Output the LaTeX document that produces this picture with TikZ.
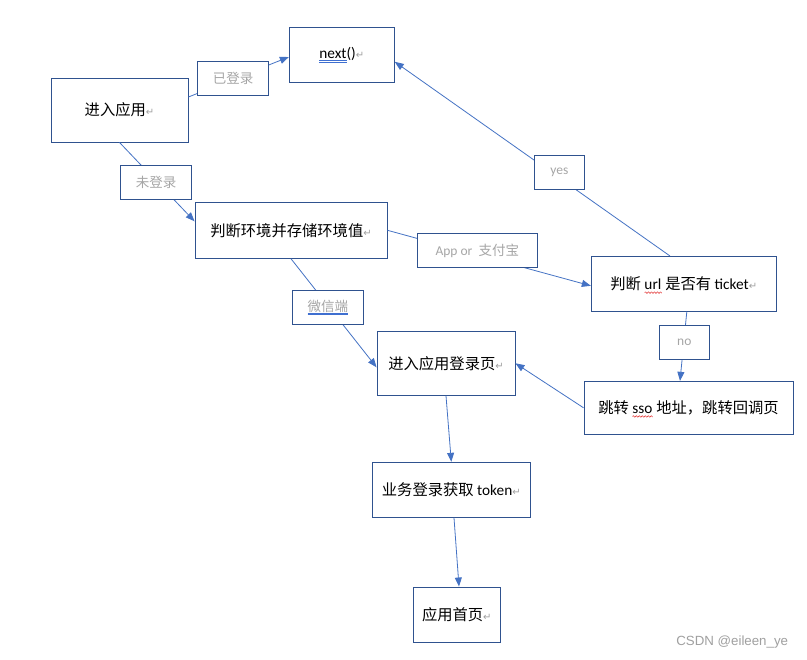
\documentclass[tikz,border=0pt]{standalone}
\usepackage{fontspec}
\setmainfont{Carlito}
\newfontfamily\cjk{Noto Sans CJK SC}
\newfontfamily\dejavu{DejaVu Sans}
\newfontfamily\arialike{Liberation Sans}
\usetikzlibrary{arrows.meta,calc}
\definecolor{boxc}{HTML}{2F528F}
\definecolor{linec}{HTML}{4472C4}
\definecolor{lblc}{HTML}{A6A6A6}
\definecolor{markc}{HTML}{A0A0A0}
\definecolor{ulblue}{HTML}{3F6FD0}
\definecolor{wavec}{HTML}{E02020}
\definecolor{wmc}{HTML}{A0A0A0}
\newsavebox\ulbox
\newcommand\pmark{{\dejavu\color{markc}\fontsize{10}{11}\selectfont ↵}}
\newcommand\dblu[2]{\sbox\ulbox{#2}\rlap{\usebox\ulbox}\rlap{\textcolor{#1}{\rule[-2.4pt]{\wd\ulbox}{0.6pt}}}\textcolor{#1}{\rule[-3.9pt]{\wd\ulbox}{0.6pt}}}
\newcommand\redw[1]{\sbox\ulbox{#1}\rlap{\usebox\ulbox}\raisebox{-4pt}[0pt][0pt]{\tikz[x=1pt,y=1pt]\draw[wavec,line width=0.5pt] plot[domain=0:\the\wd\ulbox,samples=48,smooth] (\x,{0.7*sin(\x*120)});}}
\tikzset{
  box/.style={draw=boxc, line width=0.9pt, fill=white, inner sep=0pt, text=black,
    font=\fontsize{15.3}{18}\selectfont},
  lbl/.style={draw=boxc, line width=0.9pt, fill=white, inner sep=0pt, text=lblc,
    font=\fontsize{13.5}{16}\selectfont},
  conn/.style={draw=linec, line width=0.8pt, -{Triangle[length=9pt,width=7pt]}}
}
\begin{document}
\begin{tikzpicture}[x=1pt,y=-1pt]
\useasboundingbox (0,0) rectangle (807,660);
\fill[white] (0,0) rectangle (807,660);
% main boxes
\node[box, minimum width=137pt, minimum height=64pt] (app) at (119.5,110) {{\cjk 进入应用}\pmark};
\node[box, minimum width=105pt, minimum height=55pt] (next) at (341.8,54.8) {\dblu{ulblue}{next}()\pmark};
\node[box, minimum width=192pt, minimum height=56pt] (env) at (291,230.3) {{\cjk 判断环境并存储环境值}\pmark};
\node[box, minimum width=185pt, minimum height=55pt] (url) at (683.8,283.8) {{\cjk 判断} \redw{url} {\cjk 是否有} ticket\pmark};
\node[box, minimum width=209pt, minimum height=53pt] (sso) at (688.5,407.8) {{\cjk 跳转} \redw{sso} {\cjk 地址，跳转回调页}};
\node[box, minimum width=138pt, minimum height=64pt] (login) at (446,363.3) {{\cjk 进入应用登录页}\pmark};
\node[box, minimum width=158pt, minimum height=55pt] (biz) at (451.3,489.8) {{\cjk 业务登录获取} token\pmark};
\node[box, minimum width=87pt, minimum height=55pt] (home) at (456.8,614.5) {{\cjk 应用首页}\pmark};
% connectors
\draw[conn] ([yshift=13pt]app.east) -- ([yshift=-2.2pt]next.west);
\draw[conn] (app.south) -- ([yshift=9pt]env.west);
\draw[conn] (env.east) -- ([yshift=-2pt]url.west);
\draw[conn] ([xshift=-14pt]url.north) -- ([yshift=-7pt]next.east);
\draw[conn] ([xshift=3pt]url.south) -- ([xshift=-8.5pt]sso.north);
\draw[conn] (sso.west) -- (login.east);
\draw[conn] (env.south) -- ([yshift=-4pt]login.west);
\draw[conn] (login.south) -- (biz.north);
\draw[conn] ([xshift=2.7pt]biz.south) -- ([xshift=2.2pt]home.north);
% labels
\node[lbl, minimum width=71.4pt, minimum height=33.6pt] (l1) at (233,78.5) {\cjk 已登录};
\node[lbl, minimum width=71.4pt, minimum height=34pt] (l2) at (156,182.3) {\cjk 未登录};
\node[lbl, minimum width=120pt, minimum height=33.6pt] (l3) at (477.3,250.5) {App or\ \ {\cjk 支付宝}};
\node[lbl, minimum width=50pt, minimum height=34pt] (l4) at (559.3,172.3) {yes};
\node[lbl, minimum width=50pt, minimum height=34pt] (l5) at (684.3,342.3) {no};
\node[lbl, minimum width=71pt, minimum height=34pt] (l6) at (327.8,307.3) {\cjk\dblu{ulblue}{微信端}};
% watermark
\node[text=wmc, font=\arialike\fontsize{13.3}{15}\selectfont, inner sep=0pt] (wm) at (732.2,642) {CSDN @eileen\_ye};
\end{tikzpicture}
\end{document}
